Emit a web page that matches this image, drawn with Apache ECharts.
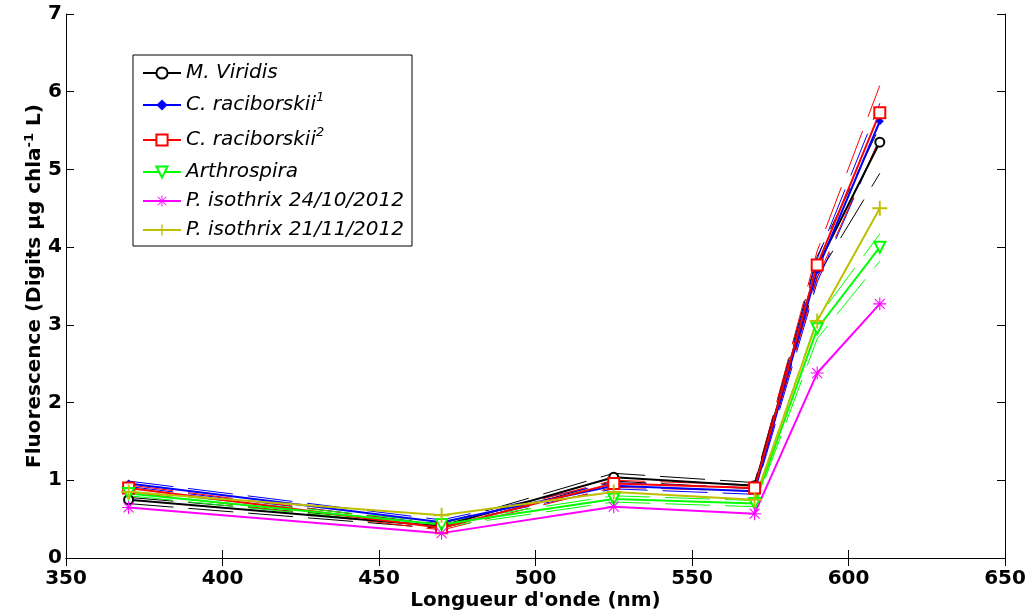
<!DOCTYPE html>
<html>
<head>
<meta charset="utf-8">
<script src="https://cdn.jsdelivr.net/npm/echarts@6/dist/echarts.min.js"></script>
<style>
  html, body { margin: 0; padding: 0; background: #fff; }
  #main { width: 1026px; height: 615px; }
</style>
</head>
<body>
<div id="main"></div>
<script>
// wavelengths (nm)
var wavelengths = [370, 470, 525, 570, 590, 610];

// mean values + bounds (dashed)
var viridis      = [0.75, 0.41, 1.04, 0.93, 3.75, 5.35];
var viridisHi    = [0.78, 0.44, 1.09, 0.97, 3.88, 5.55];
var viridisLo    = [0.70, 0.38, 0.99, 0.89, 3.62, 4.95];
var racib1       = [0.96, 0.46, 0.93, 0.86, 3.70, 5.62];
var racib1Hi     = [0.99, 0.49, 0.97, 0.90, 3.85, 5.85];
var racib1Lo     = [0.92, 0.43, 0.89, 0.82, 3.55, 5.40];
var racib2       = [0.90, 0.39, 0.96, 0.90, 3.77, 5.73];
var racib2Hi     = [0.94, 0.42, 1.00, 0.94, 3.95, 6.08];
var racib2Lo     = [0.85, 0.36, 0.91, 0.86, 3.60, 5.40];
var arthro       = [0.83, 0.43, 0.76, 0.70, 2.95, 4.00];
var arthroHi     = [0.86, 0.46, 0.80, 0.74, 3.08, 4.17];
var arthroLo     = [0.80, 0.40, 0.72, 0.66, 2.82, 3.82];
var isothrixOct  = [0.65, 0.32, 0.66, 0.57, 2.38, 3.27];
var isothrixNov  = [0.85, 0.55, 0.85, 0.75, 3.05, 4.50];

var xTicks = [350, 400, 450, 500, 550, 600, 650];
var yTicks = [0, 1, 2, 3, 4, 5, 6, 7];

var FONT = '"DejaVu Sans", sans-serif';

function pairs(vals) {
    return wavelengths.map(function (w, i) { return [w, vals[i]]; });
}

var PLUS = 'path://M10.5 0h3v24h-3z M0 10.5h24v3H0z';
var STAR = 'path://M11 0h2v24h-2z M0 11h24v2H0z M3.5 2.1L21.9 20.5L20.5 21.9L2.1 3.5Z M20.5 2.1L21.9 3.5L3.5 21.9L2.1 20.5Z';

function mainLine(name, vals, color, symbol, size, rotate) {
    var filled = symbol.indexOf('empty') !== 0;
    return {
        name: name,
        type: 'line',
        data: pairs(vals),
        symbol: symbol,
        symbolSize: size,
        symbolRotate: rotate || 0,
        z: 3,
        lineStyle: { color: color, width: 2 },
        itemStyle: filled ? { color: color, borderWidth: 0 } : { color: color, borderColor: color, borderWidth: 1.5 }
    };
}

function boundLine(vals, color) {
    return {
        type: 'line',
        data: pairs(vals),
        showSymbol: false,
        silent: true,
        z: 2,
        lineStyle: { color: color, width: 1, type: [45, 15] }
    };
}

var names = [
    'M. Viridis',
    'C. raciborskii{sup|1}',
    'C. raciborskii{sup|2}',
    'Arthrospira',
    'P. isothrix 24/10/2012',
    'P. isothrix 21/11/2012'
];

var chart = echarts.init(document.getElementById('main'));

var axisLineStyle = { lineStyle: { color: '#000', width: 1 } };
var tickStyle = { inside: true, length: 8, lineStyle: { color: '#000' } };
var labelStyle = { fontFamily: FONT, fontSize: 20, fontWeight: 'bold', color: '#000' };

var option = {
    backgroundColor: '#fff',
    animation: false,
    grid: { left: 66, right: 21, top: 14, bottom: 57, outerBoundsMode: 'none', containLabel: false },
    legend: {
        data: names,
        orient: 'vertical',
        left: 133,
        top: 55,
        padding: [7, 8, 5, 9],
        borderColor: '#000',
        borderWidth: 1,
        backgroundColor: '#fff',
        itemWidth: 38,
        itemHeight: 14,
        itemGap: 7,
        textStyle: {
            fontFamily: FONT,
            fontSize: 20,
            fontStyle: 'italic',
            color: '#000',
            lineHeight: 22,
            rich: {
                sup: { fontFamily: FONT, fontSize: 13, fontStyle: 'italic', color: '#000', lineHeight: 6, padding: [0, 0, 15, 0] }
            }
        }
    },
    xAxis: [{
        type: 'value',
        min: xTicks[0],
        max: xTicks[xTicks.length - 1],
        interval: 50,
        name: "Longueur d'onde (nm)",
        nameLocation: 'middle',
        nameGap: 33,
        nameMoveOverlap: false,
        nameTextStyle: labelStyle,
        axisLine: axisLineStyle,
        axisTick: tickStyle,
        splitLine: { show: false },
        axisLabel: Object.assign({ margin: 11 }, labelStyle)
    }, {
        type: 'value',
        position: 'top',
        min: xTicks[0],
        max: xTicks[xTicks.length - 1],
        interval: 50,
        axisLine: axisLineStyle,
        axisTick: tickStyle,
        splitLine: { show: false },
        axisLabel: { show: false }
    }],
    yAxis: [{
        type: 'value',
        min: yTicks[0],
        max: yTicks[yTicks.length - 1],
        interval: 1,
        name: 'Fluorescence (Digits µg chla{sup|-1} L)',
        nameLocation: 'middle',
        nameGap: 21,
        nameMoveOverlap: false,
        nameRotate: 90,
        nameTextStyle: Object.assign({
            verticalAlign: 'bottom',
            lineHeight: 20,
            rich: {
                sup: { fontFamily: FONT, fontSize: 13, fontWeight: 'bold', color: '#000', lineHeight: 10, padding: [0, 0, 10, 0] }
            }
        }, labelStyle),
        axisLine: axisLineStyle,
        axisTick: tickStyle,
        splitLine: { show: false },
        axisLabel: Object.assign({ margin: 4 }, labelStyle)
    }, {
        type: 'value',
        position: 'right',
        min: yTicks[0],
        max: yTicks[yTicks.length - 1],
        interval: 1,
        axisLine: axisLineStyle,
        axisTick: tickStyle,
        splitLine: { show: false },
        axisLabel: { show: false }
    }],
    series: [
        boundLine(viridisHi, '#000'), boundLine(viridisLo, '#000'),
        boundLine(racib1Hi, '#0000ff'), boundLine(racib1Lo, '#0000ff'),
        boundLine(racib2Hi, '#ff0000'), boundLine(racib2Lo, '#ff0000'),
        boundLine(arthroHi, '#00ff00'), boundLine(arthroLo, '#00ff00'),
        mainLine(names[0], viridis, '#000000', 'emptyCircle', 9),
        mainLine(names[1], racib1, '#0000ff', 'diamond', 8),
        mainLine(names[2], racib2, '#ff0000', 'emptyRect', 11),
        mainLine(names[3], arthro, '#00ff00', 'emptyTriangle', 11, 180),
        mainLine(names[4], isothrixOct, '#ff00ff', STAR, 13),
        mainLine(names[5], isothrixNov, '#bfbf00', PLUS, 15)
    ]
};

chart.setOption(option);
</script>
</body>
</html>
